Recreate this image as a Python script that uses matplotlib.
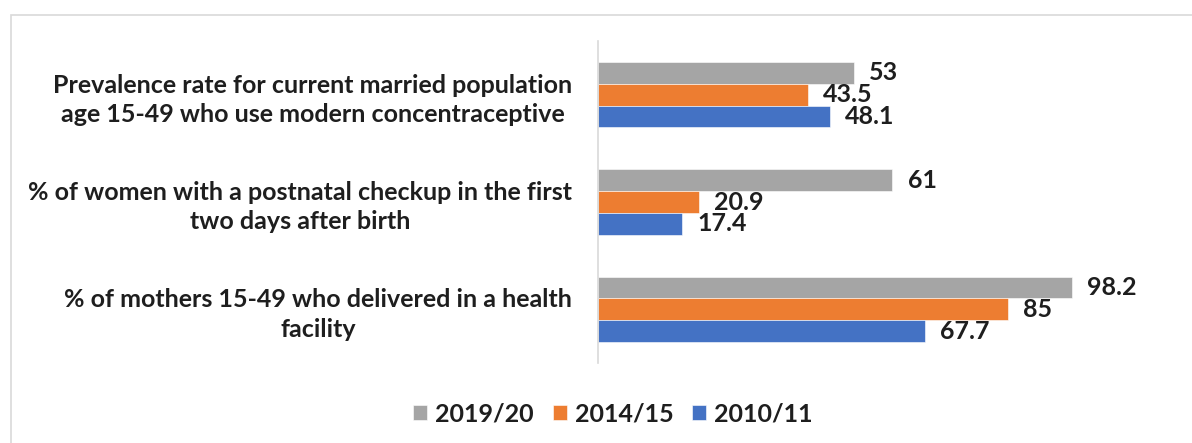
import matplotlib.pyplot as plt
import numpy as np
from matplotlib.patches import Rectangle

categories = [
    "Prevalence rate for current married population\nage 15-49 who use modern concentraceptive",
    "% of women with a postnatal checkup in the first\ntwo days after birth",
    "% of mothers 15-49 who delivered in a health\nfacility",
]
series = ["2019/20", "2014/15", "2010/11"]
values_2019 = [53, 61, 98.2]
values_2014 = [43.5, 20.9, 85]
values_2010 = [48.1, 17.4, 67.7]
colors = ["#A5A5A5", "#ED7D31", "#4472C4"]

plt.rcParams['font.family'] = ['Lato', 'DejaVu Sans']
text_color = "#1e1e1e"
fs = 18

fig = plt.figure(figsize=(11.92, 4.43), dpi=100)
W, H = 1192, 443
ax = fig.add_axes([598 / W, 1 - 363 / H, 579 / W, 322 / H])

# figure border
fig.patches.append(Rectangle((11 / W, -0.1), 1.2, 1 - 15 / H + 0.1, transform=fig.transFigure,
                             fill=False, edgecolor="#D9D9D9", linewidth=1.2))

y = np.arange(len(categories))[::-1].astype(float)
h = 0.202
all_vals = [values_2019, values_2014, values_2010]
offsets = [h, 0, -h]
for vals, name, col, off in zip(all_vals, series, colors, offsets):
    bars = ax.barh(y + off, vals, height=h, color=col, label=name,
                   edgecolor="white", linewidth=0.4)
    ax.bar_label(bars, labels=[f"{v:g}" for v in vals], padding=11,
                 fontsize=fs, fontweight='bold', color=text_color)

ax.set_xlim(0, 120)
ax.set_ylim(-0.5, 2.5)
ax.set_yticks(y)
ax.set_yticklabels(categories, multialignment='center', fontsize=fs,
                   fontweight='bold', color=text_color, linespacing=1.33)
ax.tick_params(axis='y', length=0, pad=18.7)
ax.set_xticks([])
for s in ['top', 'right', 'bottom']:
    ax.spines[s].set_visible(False)
ax.spines['left'].set_color("#D9D9D9")
ax.spines['left'].set_linewidth(1.2)

fig.legend(loc='center', bbox_to_anchor=(613 / W, 1 - 414 / H), ncol=3, frameon=False,
           prop={'size': fs, 'weight': 'bold'}, labelcolor=text_color,
           handlelength=0.56, handleheight=0.56, handletextpad=0.32, columnspacing=0.75)

fig.savefig("out.png", dpi=100)
